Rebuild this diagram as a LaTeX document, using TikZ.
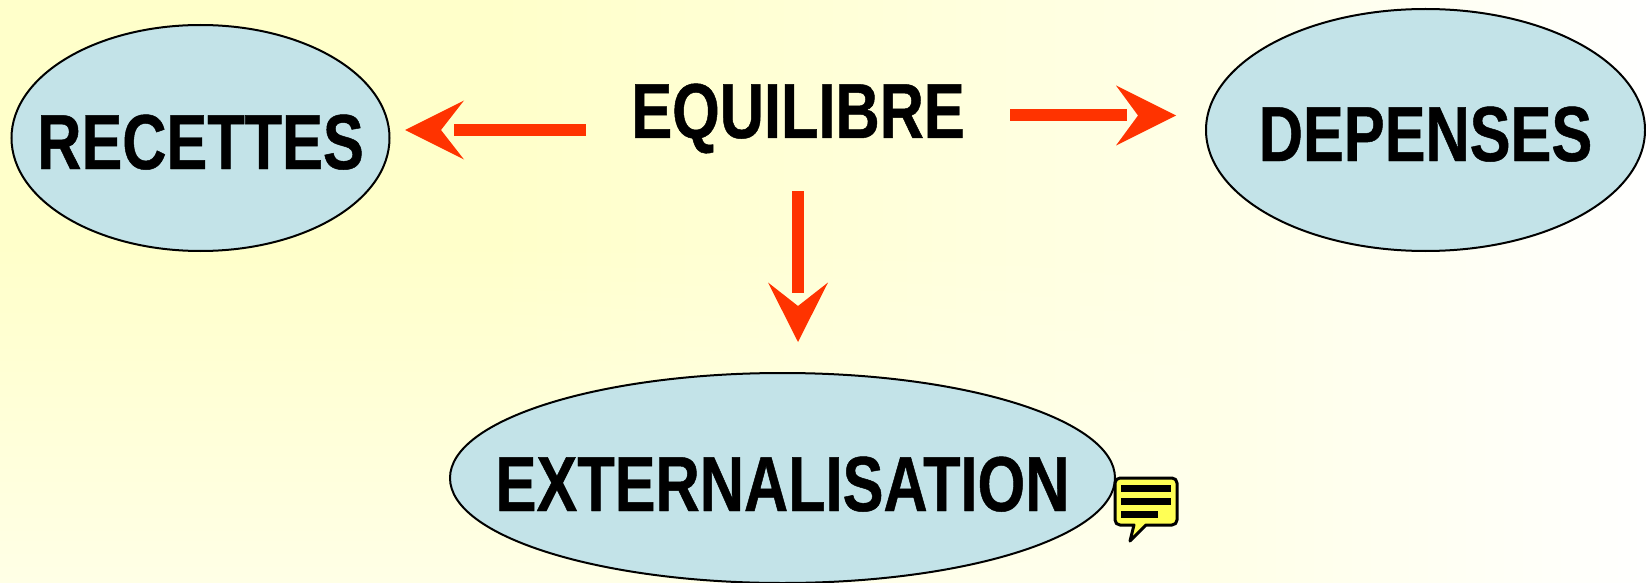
\documentclass[tikz,border=0pt]{standalone}
\usepackage{fontspec}
\usetikzlibrary{shapes.geometric,fadings}
\setmainfont{Liberation Sans}[BoldFeatures={FakeStretch=0.785,FakeBold=0.6}]
\definecolor{arrowred}{HTML}{FF3300}
\definecolor{bubble}{HTML}{C3E3E8}
\definecolor{noteyellow}{HTML}{FFFF55}
\definecolor{bgA}{HTML}{FFFFCA}
\definecolor{bgM}{HTML}{FFFFE6}
\definecolor{bgE}{HTML}{FFFFFE}
\definecolor{bgF}{HTML}{FFFFF0}
\tikzfading[name=risefade,top color=transparent!100,bottom color=transparent!25]
\tikzset{
  x=1pt,y=-1pt,
  bubblenode/.style={ellipse,draw=black,line width=2pt,fill=bubble,inner sep=0pt,text width=0pt,align=center},
  labelfont/.style={font=\fontsize{78}{78}\selectfont\bfseries},
  plainlabel/.style={labelfont,inner sep=0pt,text height=56pt,text depth=0pt},
  conn/.style={draw=arrowred,line width=12pt},
  headfill/.style={fill=arrowred,draw=none},
  notebar/.style={fill=black,draw=none}
}
\begin{document}
\begin{tikzpicture}
\useasboundingbox (0,0) rectangle (1646,583);
\fill[bgA] (0,0) rectangle (500,583);
\shade[left color=bgA,right color=bgM,shading angle=90] (500,0) rectangle (1190,583);
\shade[left color=bgM,right color=bgE,shading angle=90] (1190,0) rectangle (1646,583);
\fill[bgF,path fading=risefade] (0,240) rectangle (1190,583);
\begin{scope}
\clip (0,0) rectangle (1646,583);
\node[bubblenode,minimum width=378pt,minimum height=226pt,labelfont,text height=62pt,text depth=0pt] (rec) at (200.5,138) {\makebox[0pt]{RECETTES}};
\node[bubblenode,minimum width=439pt,minimum height=242pt,labelfont,text height=62pt,text depth=0pt] (dep) at (1425.5,130) {\makebox[0pt]{DEPENSES}};
\node[bubblenode,minimum width=665pt,minimum height=210pt,labelfont,text height=66pt,text depth=0pt] (ext) at (782.5,478) {\makebox[0pt]{EXTERNALISATION}};
\end{scope}
\node[plainlabel] (eq) at (798,110) {EQUILIBRE};
\coordinate (eqL) at (586,130);
\coordinate (eqR) at (1010,115.5);
\coordinate (eqD) at (798,191);
% shafts
\draw[conn,shorten >=63.5pt] (eqL) -- (eqL -| rec.east);
\draw[conn,shorten >=78pt] (eqR) -- (eqR -| dep.west);
\draw[conn,shorten >=79pt] (eqD) -- (eqD |- ext.north);
% heads
\fill[headfill] (405,130) -- (464,100.5) -- (441,130) -- (464,159.5) -- cycle;
\fill[headfill] (1176,115.5) -- (1116,85.5) -- (1138,115.5) -- (1116,145.5) -- cycle;
\fill[headfill] (798,342) -- (768,282.5) -- (798,306) -- (828,282.5) -- cycle;
\draw[fill=noteyellow,draw=black,line width=3pt,line join=round]
  (1120,478) -- (1172,478) to[out=0,in=90] (1177,483) -- (1177,520) to[out=270,in=0] (1172,525) -- (1146,525) -- (1130,541) -- (1134,525) -- (1120,525) to[out=180,in=270] (1115,520) -- (1115,483) to[out=90,in=180] (1120,478) -- cycle;
\fill[notebar] (1121,485) rectangle (1171,492);
\fill[notebar] (1121,498) rectangle (1171,505);
\fill[notebar] (1121,511) rectangle (1158,518);
\end{tikzpicture}
\end{document}
